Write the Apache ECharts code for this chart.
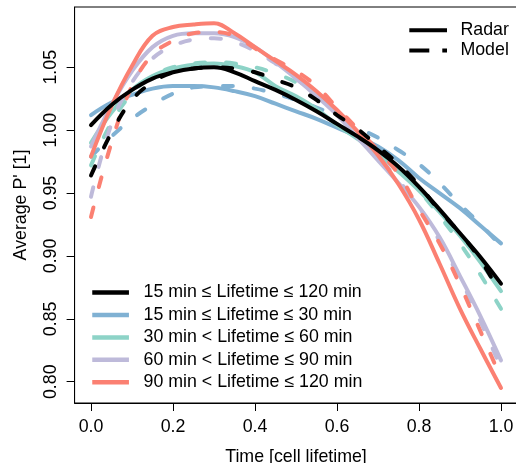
<!DOCTYPE html>
<html>
<head>
<meta charset="utf-8">
<script src="https://cdn.jsdelivr.net/npm/echarts@6/dist/echarts.min.js"></script>
<style>html,body{margin:0;padding:0;background:#fff}#c{width:516px;height:463px}</style>
</head>
<body>
<div id="c"></div>
<script>
const xs = [0,0.05,0.1,0.15,0.2,0.25,0.3,0.35,0.4,0.45,0.5,0.55,0.6,0.65,0.7,0.75,0.8,0.85,0.9,0.95,1.0];
const groupNames = ['15 min \u2264 Lifetime \u2264 120 min','15 min \u2264 Lifetime \u2264 30 min','30 min < Lifetime \u2264 60 min','60 min < Lifetime \u2264 90 min','90 min < Lifetime \u2264 120 min'];
const groupColors = ['#000000','#80B1D3','#8DD3C7','#BEBADA','#FB8072'];
const xTicks = [0,0.2,0.4,0.6,0.8,1.0];
const yTicks = [0.80,0.85,0.90,0.95,1.00,1.05];

const radarAll   = [1.004,1.020,1.032,1.041,1.046,1.049,1.050,1.046,1.039,1.032,1.024,1.015,1.005,0.995,0.984,0.971,0.955,0.937,0.918,0.899,0.878];
const modelAll   = [0.964,0.998,1.024,1.038,1.046,1.049,1.050,1.049,1.046,1.040,1.034,1.024,1.012,1.001,0.987,0.973,0.956,0.936,0.918,0.897,0.869];
const radar15_30 = [1.012,1.022,1.028,1.033,1.035,1.035,1.034,1.031,1.027,1.021,1.015,1.009,1.002,0.995,0.987,0.976,0.962,0.950,0.938,0.924,0.910];
const model15_30 = [0.979,0.995,1.009,1.020,1.029,1.034,1.035,1.035,1.033,1.029,1.024,1.018,1.011,1.002,0.994,0.984,0.973,0.958,0.941,0.925,0.908];
const radar30_60 = [0.990,1.014,1.032,1.043,1.049,1.052,1.053,1.051,1.046,1.035,1.027,1.017,1.004,0.993,0.981,0.967,0.952,0.935,0.916,0.895,0.872];
const model30_60 = [0.972,1.006,1.029,1.043,1.050,1.053,1.054,1.053,1.050,1.045,1.038,1.027,1.013,1.000,0.985,0.969,0.952,0.932,0.910,0.885,0.858];
const radar60_90 = [0.987,1.020,1.047,1.066,1.075,1.077,1.077,1.074,1.066,1.054,1.041,1.027,1.012,0.994,0.976,0.958,0.939,0.915,0.884,0.852,0.817];
const model60_90 = [0.947,1.005,1.038,1.057,1.067,1.072,1.073,1.070,1.063,1.053,1.041,1.028,1.013,0.997,0.979,0.960,0.939,0.912,0.882,0.848,0.811];
const radar90_120= [0.979,1.019,1.051,1.075,1.082,1.084,1.085,1.077,1.066,1.055,1.044,1.031,1.016,0.999,0.980,0.957,0.929,0.894,0.858,0.826,0.795];
const model90_120= [0.931,0.990,1.035,1.060,1.071,1.077,1.078,1.075,1.065,1.056,1.047,1.035,1.018,1.001,0.984,0.965,0.937,0.910,0.877,0.840,0.803];

const radarSets = [radarAll, radar15_30, radar30_60, radar60_90, radar90_120];
const modelSets = [modelAll, model15_30, model30_60, model60_90, model90_120];
const drawOrder = [1,2,3,4,0];

function pairs(ys){ return xs.map((x,i)=>[x, ys[i]]); }

const series = [];
drawOrder.forEach(g => {
  series.push({
    name: groupNames[g], type:'line', data: pairs(radarSets[g]), smooth:0.4,
    symbol:'none', color: groupColors[g],
    lineStyle:{width:4, color: groupColors[g], cap:'round'}, z: 2
  });
  series.push({
    name: 'Model: ' + groupNames[g], type:'line', data: pairs(modelSets[g]), smooth:0.4,
    symbol:'none', color: groupColors[g],
    lineStyle:{width:4, color: groupColors[g], type:[10,21], cap:'round'}, z: 2
  });
});
series.push({name:'Radar', type:'line', data:[], symbol:'none', color:'#000', lineStyle:{width:4,color:'#000',cap:'butt'}});
series.push({name:'Model', type:'line', data:[], symbol:'none', color:'#000', lineStyle:{width:4,color:'#000',type:[20,13],cap:'butt'}});

const font = 'Liberation Sans, Arial, Helvetica, sans-serif';
const fs = 17.8;
const chart = echarts.init(document.getElementById('c'), null, {renderer:'canvas'});
chart.setOption({
  animation:false,
  backgroundColor:'#fff',
  grid:{left:74.6, right:-1.4, top:7, bottom:60, show:true, borderColor:'#000', borderWidth:1,
        backgroundColor:'transparent', containLabel:false, outerBoundsMode:'none'},
  xAxis:{
    type:'value', min:-0.04, max:1.04,
    name:'Time [cell lifetime]', nameLocation:'middle', nameGap:45,
    nameTextStyle:{fontFamily:font, fontSize:fs, color:'#000'},
    axisLine:{show:true, onZero:false, lineStyle:{color:'#000', width:1}},
    axisTick:{show:true, length:8, customValues:xTicks, lineStyle:{color:'#000'}},
    axisLabel:{customValues:xTicks, formatter:v=>v.toFixed(1), fontFamily:font, fontSize:fs, color:'#000', margin:15},
    splitLine:{show:false}
  },
  yAxis:{
    type:'value', min:0.7831, max:1.0979,
    name:"Average P' [1]", nameLocation:'middle', nameGap:44, nameRotate:90,
    nameTextStyle:{fontFamily:font, fontSize:fs, color:'#000'},
    axisLine:{show:true, onZero:false, lineStyle:{color:'#000', width:1}},
    axisTick:{show:true, length:8, customValues:yTicks, lineStyle:{color:'#000'}},
    axisLabel:{customValues:yTicks, rotate:90, formatter:v=>v.toFixed(2), fontFamily:font, fontSize:fs, color:'#000', margin:14},
    splitLine:{show:false}
  },
  legend:[
    {
      data:[0,1,2,3,4].map(g=>({name:groupNames[g]})),
      orient:'vertical', left:90, top:283.6, padding:0, itemWidth:36.7, itemHeight:14, itemGap:4.4,
      selectedMode:false, lineStyle:{width:4.5, cap:'butt'}, itemStyle:{opacity:0},
      textStyle:{fontFamily:font, fontSize:fs, color:'#000', lineHeight:17.8, padding:[0,0,0,9.6]}
    },
    {
      data:[{name:'Radar'},{name:'Model'}],
      orient:'vertical', left:407.3, top:21.2, padding:0, itemWidth:37.7, itemHeight:14, itemGap:2.2,
      selectedMode:false, lineStyle:{width:4}, itemStyle:{opacity:0},
      textStyle:{fontFamily:font, fontSize:fs, color:'#000', lineHeight:17.8, padding:[0,0,0,8.4]}
    }
  ],
  series: series
});
</script>
</body>
</html>
